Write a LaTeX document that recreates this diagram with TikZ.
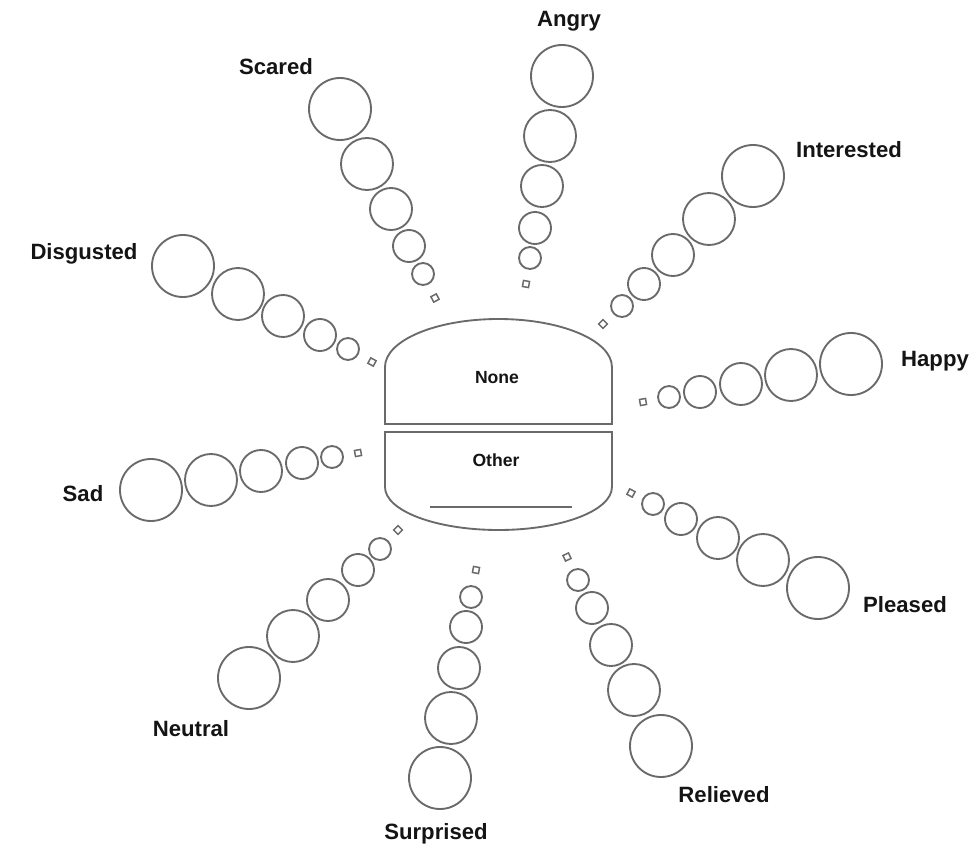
\documentclass[tikz,border=0pt]{standalone}
\usepackage{fontspec}
\setmainfont{Liberation Sans}
\definecolor{linegray}{HTML}{6A6A6A}
\definecolor{txt}{HTML}{141414}
\begin{document}
\begin{tikzpicture}[x=0.75pt,y=-0.75pt,
  bub/.style={circle,draw=linegray,line width=1.4pt,inner sep=0pt,outer sep=0pt},
  sq/.style={rectangle,draw=linegray,line width=1.1pt,inner sep=0pt,minimum size=4.6pt},
  lab/.style={font=\fontsize{16.6}{19}\selectfont\bfseries,text=txt,anchor=base,inner sep=0pt},
  inlab/.style={font=\fontsize{13.2}{15}\selectfont\bfseries,text=txt,anchor=base,inner sep=0pt},
  shell/.style={draw=linegray,line width=1.4pt}]
\useasboundingbox (0,0) rectangle (974,848);

% central shape
\draw[shell] (385,424) -- (385,367)
  arc[start angle=180,end angle=0,x radius=85.1pt,y radius=36pt] -- (612,424) -- cycle;
\draw[shell] (385,432) -- (385,487)
  arc[start angle=180,end angle=360,x radius=85.1pt,y radius=32.25pt] -- (612,432) -- cycle;
\draw[draw=linegray,line width=0.9pt] (430,507) -- (572,507);
\node[inlab] (none) at (497,383) {None};
\node[inlab] (other) at (496,466) {Other};

% Angry
\foreach \x/\y/\d/\n in {562/76/46.5/1,550/136/39/2,542/186/31.5/3,535/228/24/4,530/258/16.5/5}
  \node[bub,minimum size=\d pt] (ang\n) at (\x,\y) {};
\node[sq,rotate=80] (angs) at (526,284) {};
\node[lab] (angry) at (569,27) {Angry};

% Scared
\foreach \x/\y/\d/\n in {340/109/46.5/1,367/164/39/2,391/209/31.5/3,409/246/24/4,423/274/16.5/5}
  \node[bub,minimum size=\d pt] (sca\n) at (\x,\y) {};
\node[sq,rotate=117] (scas) at (435,298) {};
\node[lab] (scared) at (276,74.5) {Scared};

% Disgusted
\foreach \x/\y/\d/\n in {183/266/46.5/1,238/294/39/2,283/316/31.5/3,320/335/24/4,348/349/16.5/5}
  \node[bub,minimum size=\d pt] (dis\n) at (\x,\y) {};
\node[sq,rotate=153] (diss) at (372,362) {};
\node[lab] (disgusted) at (84,260) {Disgusted};

% Sad
\foreach \x/\y/\d/\n in {151/490/46.5/1,211/480/39/2,261/471/31.5/3,302/463/24/4,332/457/16.5/5}
  \node[bub,minimum size=\d pt] (sad\n) at (\x,\y) {};
\node[sq,rotate=190] (sads) at (358,453) {};
\node[lab] (sad) at (83,501) {Sad};

% Neutral
\foreach \x/\y/\d/\n in {249/678/46.5/1,293/636/39/2,328/600/31.5/3,358/570/24/4,380/549/16.5/5}
  \node[bub,minimum size=\d pt] (neu\n) at (\x,\y) {};
\node[sq,rotate=225] (neus) at (398,530) {};
\node[lab] (neutral) at (191,736) {Neutral};

% Surprised
\foreach \x/\y/\d/\n in {440/778/46.5/1,451/718/39/2,459/668/31.5/3,466/627/24/4,471/597/16.5/5}
  \node[bub,minimum size=\d pt] (sur\n) at (\x,\y) {};
\node[sq,rotate=260] (surs) at (476,570) {};
\node[lab] (surprised) at (436,839) {Surprised};

% Relieved
\foreach \x/\y/\d/\n in {661/746/46.5/1,634/690/39/2,611/645/31.5/3,592/608/24/4,578/580/16.5/5}
  \node[bub,minimum size=\d pt] (rel\n) at (\x,\y) {};
\node[sq,rotate=296] (rels) at (567,557) {};
\node[lab] (relieved) at (724,802) {Relieved};

% Pleased
\foreach \x/\y/\d/\n in {818/588/46.5/1,763/560/39/2,718/538/31.5/3,681/519/24/4,653/504/16.5/5}
  \node[bub,minimum size=\d pt] (ple\n) at (\x,\y) {};
\node[sq,rotate=333] (ples) at (631,493) {};
\node[lab] (pleased) at (905,612) {Pleased};

% Happy
\foreach \x/\y/\d/\n in {851/364/46.5/1,791/375/39/2,741/384/31.5/3,700/392/24/4,669/397/16.5/5}
  \node[bub,minimum size=\d pt] (hap\n) at (\x,\y) {};
\node[sq,rotate=10] (haps) at (643,402) {};
\node[lab] (happy) at (935,367) {Happy};

% Interested
\foreach \x/\y/\d/\n in {753/176/46.5/1,709/219/39/2,673/255/31.5/3,644/284/24/4,622/306/16.5/5}
  \node[bub,minimum size=\d pt] (int\n) at (\x,\y) {};
\node[sq,rotate=45] (ints) at (603,324) {};
\node[lab] (interested) at (849,158) {Interested};
\end{tikzpicture}
\end{document}
